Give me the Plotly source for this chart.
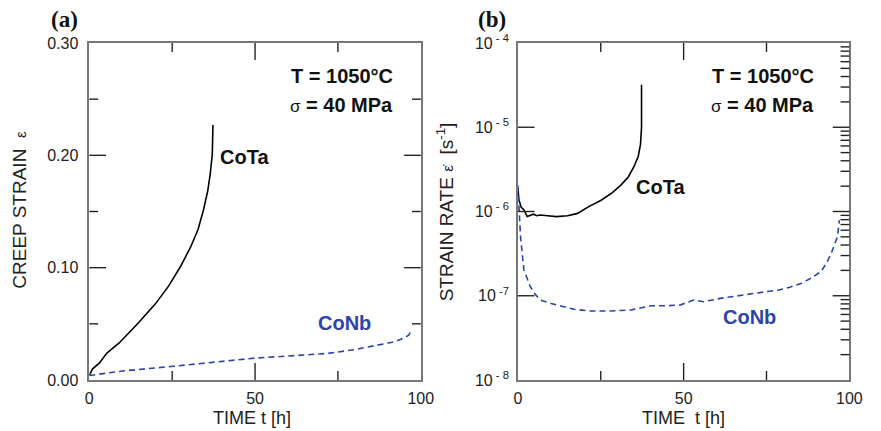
import plotly.graph_objects as go

# ---- data ----
ta_t = [0, 1, 3, 5.3, 9, 14.7, 20, 24, 27.5, 30.5, 32.8, 34.4, 35.7, 36.5, 37.1, 37.3]
ta_strain = [0.004, 0.010, 0.015, 0.024, 0.033, 0.0505, 0.068, 0.084, 0.101, 0.118, 0.134,
             0.151, 0.168, 0.184, 0.201, 0.227]

nb_t = [0, 10, 24.5, 40, 50, 60, 72, 80, 87, 92, 95, 96.4, 97]
nb_strain = [0.004, 0.008, 0.012, 0.0165, 0.0195, 0.0213, 0.0237, 0.027, 0.031, 0.034,
             0.0375, 0.040, 0.044]

ta_rt = [0, 0.3, 1.0, 1.8, 2.8, 3.7, 4.7, 5.7, 6.7, 9, 11.6, 15, 18, 21.5, 25, 28.4, 31,
         33.3, 35, 36.3, 37, 37.3, 37.3]
ta_rate = [1.9e-6, 1.38e-6, 1.12e-6, 1.05e-6, 8.7e-7, 8.9e-7, 9.3e-7, 8.9e-7, 9.1e-7,
           8.9e-7, 8.7e-7, 8.9e-7, 9.5e-7, 1.15e-6, 1.35e-6, 1.66e-6, 2.04e-6, 2.57e-6,
           3.4e-6, 4.5e-6, 6.3e-6, 1.0e-5, 3.2e-5]

nb_rt = [0, 0.3, 0.8, 1.8, 2.8, 3.7, 5, 6.7, 10, 13.6, 17, 21.5, 28, 34.3, 37, 40.2, 45,
         49.1, 53, 56, 61, 66, 70.8, 75, 78.7, 82, 85.6, 88.5, 91.5, 93, 94.5, 95.5, 96.4, 97]
nb_rate = [2.04e-6, 1.26e-6, 5.0e-7, 2.04e-7, 1.58e-7, 1.29e-7, 1.07e-7, 8.9e-8, 8.1e-8,
           7.4e-8, 6.9e-8, 6.6e-8, 6.6e-8, 6.8e-8, 7.1e-8, 7.6e-8, 7.6e-8, 7.8e-8, 8.9e-8,
           8.5e-8, 9.3e-8, 1.0e-7, 1.07e-7, 1.12e-7, 1.17e-7, 1.26e-7, 1.41e-7, 1.62e-7,
           1.95e-7, 2.4e-7, 3.16e-7, 4.0e-7, 5.0e-7, 7.9e-7]

strain_ticks = [0.0, 0.1, 0.2, 0.3]
strain_minor = [0.05, 0.15, 0.25]
strain_labels = ["0.00", "0.10", "0.20", "0.30"]
rate_ticks = [1e-8, 1e-7, 1e-6, 1e-5, 1e-4]
rate_labels = ["10<sup> - 8</sup>", "10<sup> -7</sup>", "10<sup> - 6</sup>",
               "10<sup> - 5</sup>", "10<sup> - 4</sup>"]
rate_minor = [m * 10.0 ** e for e in range(-8, -4) for m in range(2, 10)]
time_ticks = [0, 50, 100]
time_minor = [25, 75]

BLUE = "#2b44a8"
W, H = 881, 431
L_T, L_B = 43, 380
PW = 338.0   # plot width in px
PH = 337.0   # plot height in px
MAJ, MIN = 17, 9

def px(x):
    return x / W

def py(y):
    return (L_B - y) / (L_B - L_T)

fig = go.Figure()
fig.add_trace(go.Scatter(x=ta_t, y=ta_strain, mode="lines", line=dict(color="black", width=1.6),
                         xaxis="x", yaxis="y", showlegend=False))
fig.add_trace(go.Scatter(x=nb_t, y=nb_strain, mode="lines",
                         line=dict(color=BLUE, width=1.6, dash="6px,4px"),
                         xaxis="x", yaxis="y", showlegend=False))
fig.add_trace(go.Scatter(x=ta_rt, y=ta_rate, mode="lines", line=dict(color="black", width=1.6),
                         xaxis="x2", yaxis="y2", showlegend=False))
fig.add_trace(go.Scatter(x=nb_rt, y=nb_rate, mode="lines",
                         line=dict(color=BLUE, width=1.6, dash="6px,4px"),
                         xaxis="x2", yaxis="y2", showlegend=False))

font = dict(family="Liberation Sans, Arial, sans-serif", size=16, color="#222")
ax = dict(showgrid=False, zeroline=False, showline=True, linecolor="#777", linewidth=1.5,
          mirror=True, ticks="", tickfont=dict(size=16, color="#222"))

fig.update_layout(
    width=W, height=H,
    margin=dict(l=0, r=0, t=L_T, b=H - L_B),
    plot_bgcolor="white", paper_bgcolor="white",
    font=font,
    xaxis=dict(ax, domain=[px(87), px(425)], anchor="y", range=[0, 100],
               tickvals=time_ticks, ticklabelstandoff=3),
    xaxis2=dict(ax, domain=[px(524), px(862)], anchor="y2", range=[0, 100],
                tickvals=time_ticks, ticklabelstandoff=3),
    yaxis=dict(ax, domain=[0, 1], anchor="x", range=[0, 0.3], tickvals=strain_ticks,
               ticktext=strain_labels, ticklabelstandoff=6),
    yaxis2=dict(ax, domain=[0, 1], anchor="x2", type="log", range=[-8, -4],
                tickvals=rate_ticks, ticktext=rate_labels, ticklabelstandoff=4),
)

# ---- tick marks, drawn inside the frame at the tick values ----
shapes = []
tk = dict(type="line", line=dict(color="#222", width=1.4), layer="above")

def xticks(xref, yref, vals, length):
    f = length / PH
    for v in vals:
        shapes.append(dict(tk, xref=xref, yref=yref + " domain", x0=v, x1=v, y0=0, y1=f))
        shapes.append(dict(tk, xref=xref, yref=yref + " domain", x0=v, x1=v, y0=1, y1=1 - f))

def yticks(xref, yref, vals, length, left=True, right=True):
    f = length / PW
    for v in vals:
        if left:
            shapes.append(dict(tk, xref=xref + " domain", yref=yref, x0=0, x1=f, y0=v, y1=v))
        if right:
            shapes.append(dict(tk, xref=xref + " domain", yref=yref, x0=1, x1=1 - f, y0=v, y1=v))

xticks("x", "y", time_ticks[1:-1], MAJ)
xticks("x", "y", time_minor, MIN)
xticks("x2", "y2", time_ticks[1:-1], MAJ)
xticks("x2", "y2", time_minor, MIN)
yticks("x", "y", strain_ticks[1:-1], MAJ)
yticks("x", "y", strain_minor, MIN)
yticks("x2", "y2", rate_ticks[1:-1], MAJ)
yticks("x2", "y2", rate_minor, MIN, left=False)
fig.update_layout(shapes=shapes)

ann = []
bold20 = dict(family="Liberation Sans, Arial, sans-serif", size=20, color="#111")
for xr in (399, 828):
    ann.append(dict(x=px(xr), y=py(76), xref="paper", yref="paper", xanchor="right", yanchor="middle",
                    text="<b>T = 1050°C</b>", showarrow=False, font=bold20))
    ann.append(dict(x=px(xr), y=py(105), xref="paper", yref="paper", xanchor="right", yanchor="middle",
                    text="<span style='font-size:17px'>σ</span> <b>= 40 MPa</b>", showarrow=False,
                    font=bold20))
ann += [
    dict(x=px(218), y=py(157), xref="paper", yref="paper", xanchor="left", yanchor="middle",
         text="<b>CoTa</b>", showarrow=False, font=bold20),
    dict(x=px(642), y=py(187), xref="paper", yref="paper", xanchor="left", yanchor="middle",
         text="<b>CoTa</b>", showarrow=False, font=bold20),
    dict(x=px(318), y=py(323), xref="paper", yref="paper", xanchor="left", yanchor="middle",
         text="<b>CoNb</b>", showarrow=False, font=dict(bold20, color=BLUE)),
    dict(x=px(731), y=py(317), xref="paper", yref="paper", xanchor="left", yanchor="middle",
         text="<b>CoNb</b>", showarrow=False, font=dict(bold20, color=BLUE)),
    dict(x=px(62), y=py(20), xref="paper", yref="paper", xanchor="center", yanchor="middle",
         text="<b>(a)</b>", showarrow=False,
         font=dict(family="Liberation Serif, Times New Roman, serif", size=23, color="#111")),
    dict(x=px(498), y=py(20), xref="paper", yref="paper", xanchor="center", yanchor="middle",
         text="<b>(b)</b>", showarrow=False,
         font=dict(family="Liberation Serif, Times New Roman, serif", size=23, color="#111")),
    dict(x=px(253), y=py(418), xref="paper", yref="paper", xanchor="center", yanchor="middle",
         text="TIME t [h]", showarrow=False, font=dict(size=18, color="#222")),
    dict(x=px(693), y=py(418), xref="paper", yref="paper", xanchor="center", yanchor="middle",
         text="TIME  t [h]", showarrow=False, font=dict(size=18, color="#222")),
    dict(x=px(15), y=py(210), xref="paper", yref="paper", xanchor="center", yanchor="middle",
         text="CREEP STRAIN  <span style='font-size:15px'>ε</span>", textangle=-90,
         showarrow=False, font=dict(size=19, color="#222")),
    dict(x=px(450), y=py(212), xref="paper", yref="paper", xanchor="center", yanchor="middle",
         text="STRAIN RATE <span style='font-size:15px'>ε̇</span>  [s<sup>-1</sup>]", textangle=-90,
         showarrow=False, font=dict(size=19, color="#222")),
]
fig.update_layout(annotations=ann)
fig.write_html("out.html")
